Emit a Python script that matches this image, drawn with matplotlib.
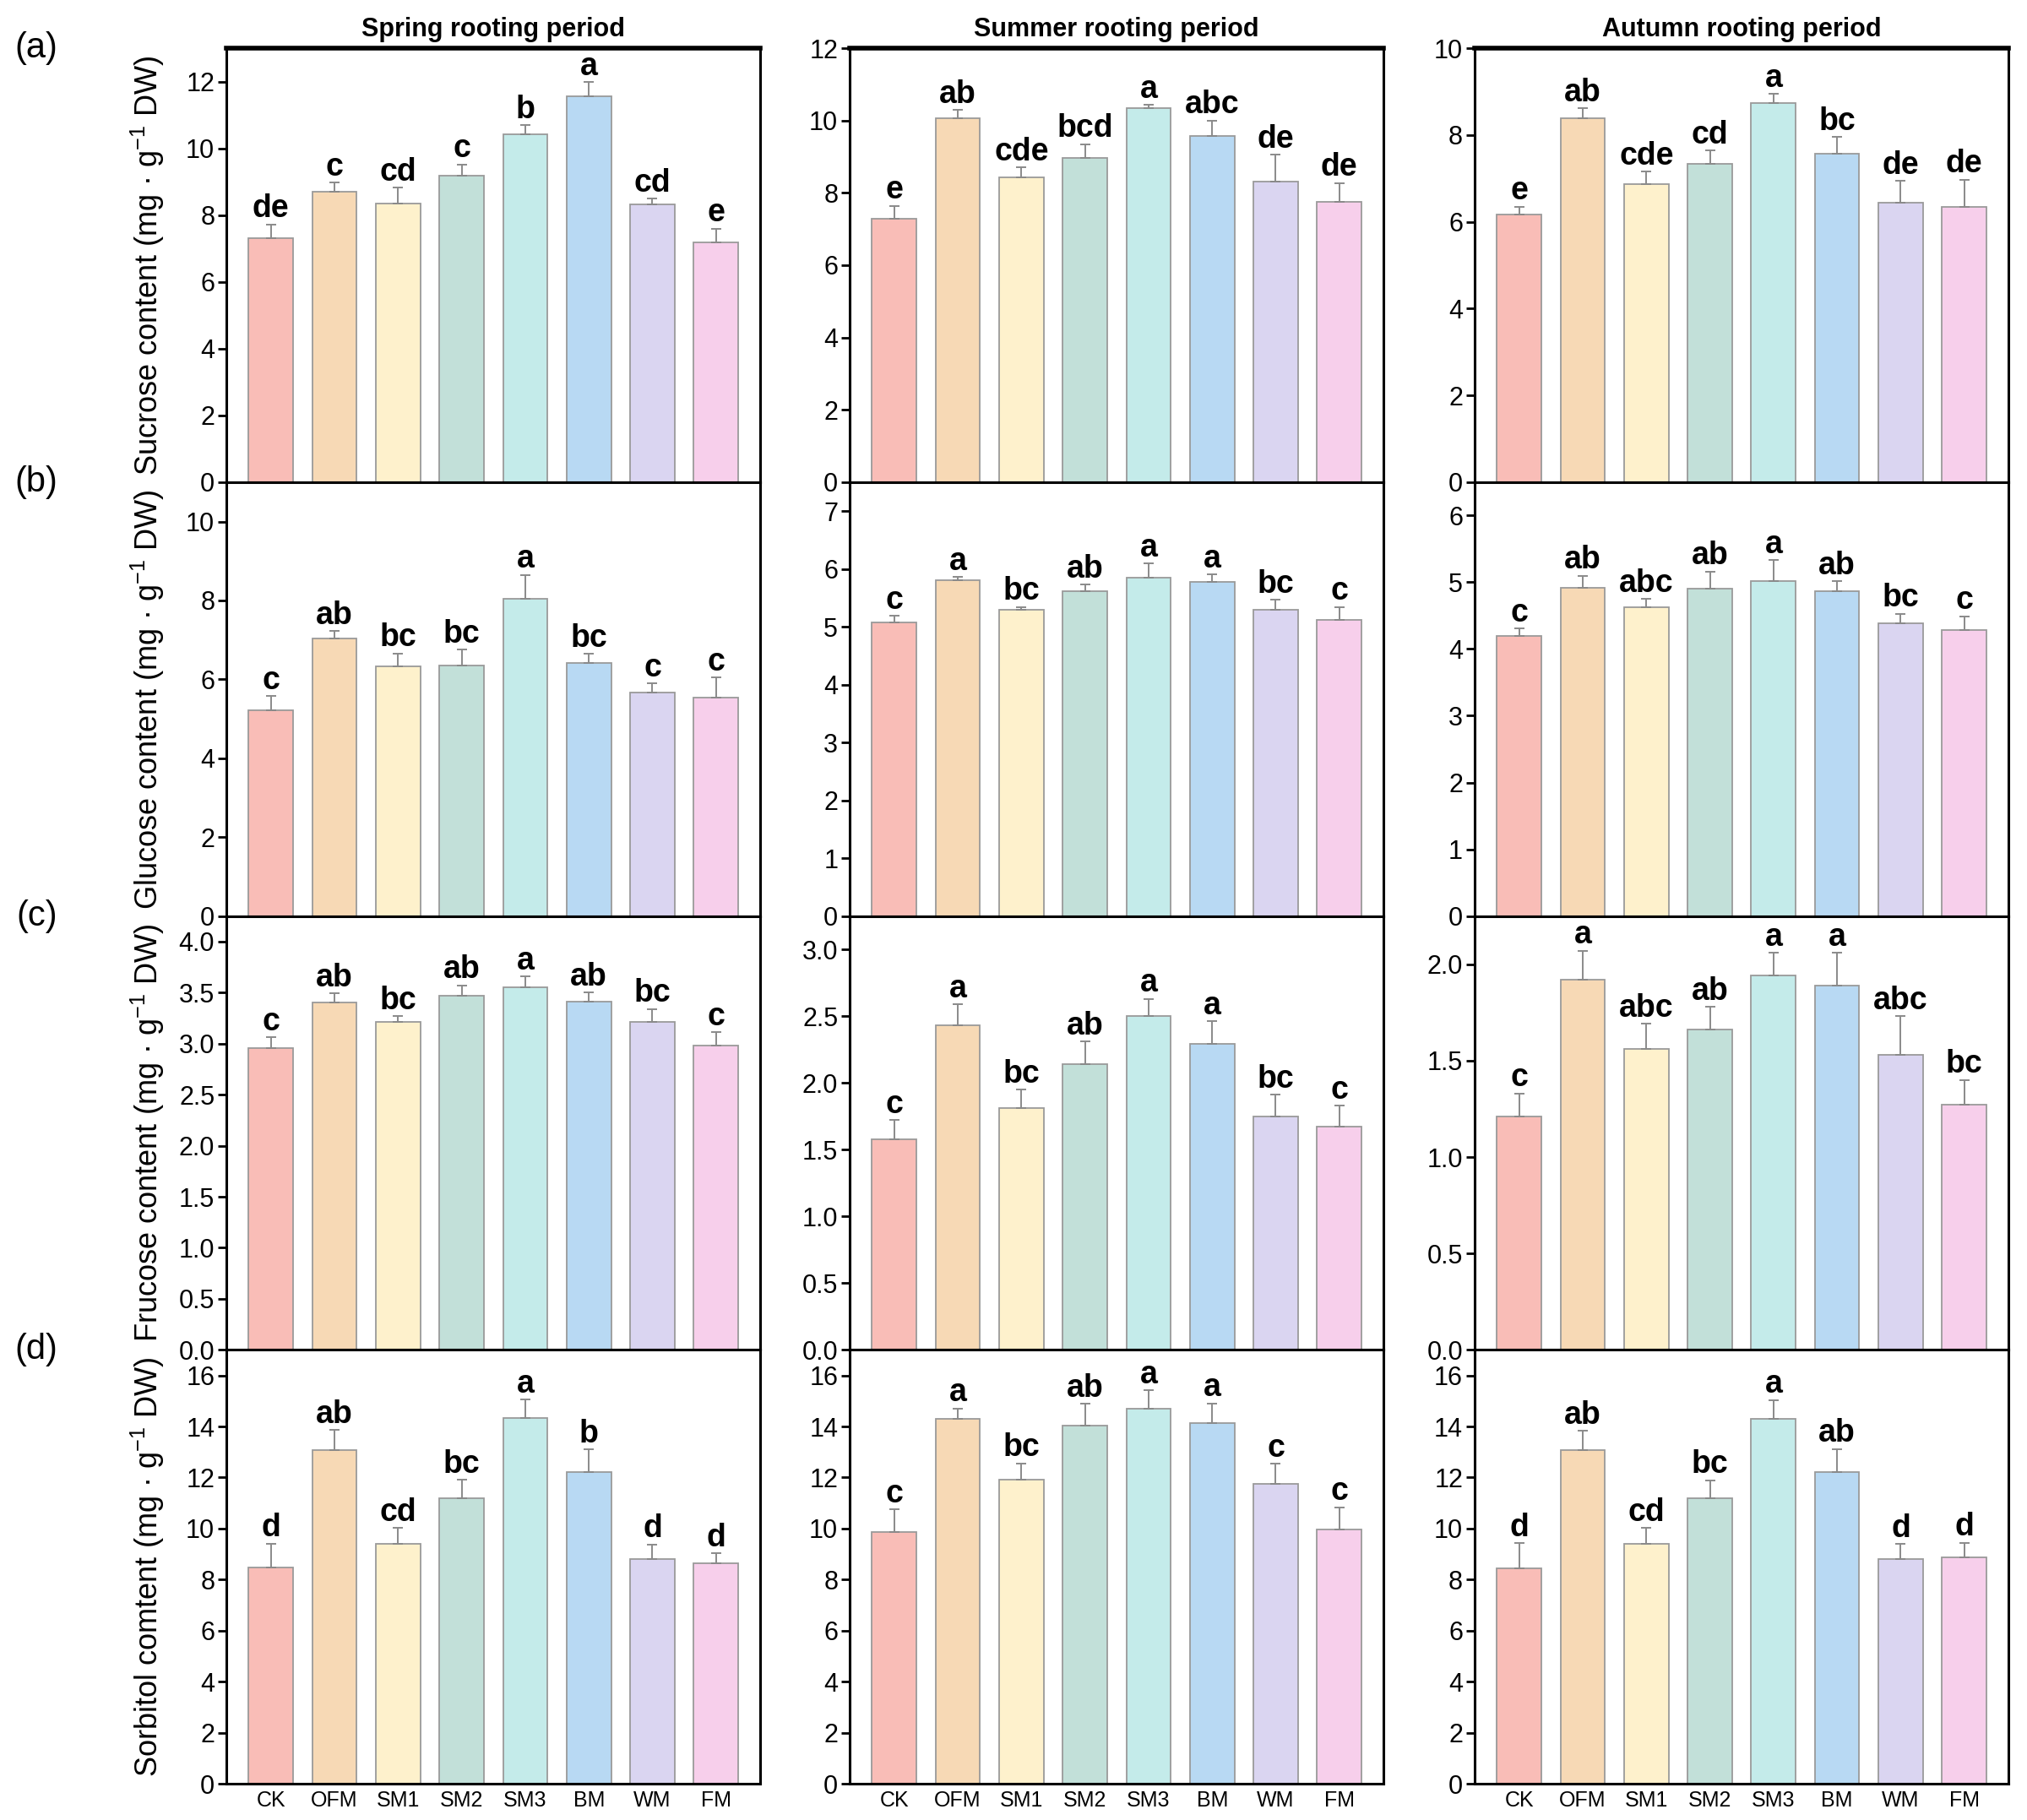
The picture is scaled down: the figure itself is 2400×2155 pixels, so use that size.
import numpy as np
import matplotlib
matplotlib.use("Agg")
import matplotlib.pyplot as plt
from matplotlib.ticker import FormatStrFormatter

plt.rcParams['font.family'] = ['Liberation Sans', 'DejaVu Sans']
plt.rcParams['mathtext.fontset'] = 'custom'
plt.rcParams['mathtext.rm'] = 'Liberation Sans'
NARROW = ['Liberation Sans Narrow', 'Liberation Sans', 'DejaVu Sans']

groups = ['CK', 'OFM', 'SM1', 'SM2', 'SM3', 'BM', 'WM', 'FM']
colors = ['#F9BDB7', '#F7D9B5', '#FEF1CC', '#C2E0D9', '#C4EBEA', '#B8D9F3', '#DAD5F1', '#F7CFEB']
periods = ['Spring rooting period', 'Summer rooting period', 'Autumn rooting period']

# Sucrose
suc_spring = [7.31, 8.71, 8.34, 9.17, 10.43, 11.55, 8.31, 7.18]
suc_spring_err = [0.41, 0.26, 0.49, 0.35, 0.26, 0.44, 0.19, 0.42]
suc_spring_sig = ['de', 'c', 'cd', 'c', 'b', 'a', 'cd', 'e']
suc_summer = [7.28, 10.06, 8.44, 8.96, 10.34, 9.57, 8.32, 7.76]
suc_summer_err = [0.36, 0.23, 0.27, 0.39, 0.09, 0.43, 0.73, 0.51]
suc_summer_sig = ['e', 'ab', 'cde', 'bcd', 'a', 'abc', 'de', 'de']
suc_autumn = [6.17, 8.39, 6.86, 7.34, 8.73, 7.57, 6.44, 6.35]
suc_autumn_err = [0.18, 0.23, 0.30, 0.30, 0.22, 0.38, 0.50, 0.62]
suc_autumn_sig = ['e', 'ab', 'cde', 'cd', 'a', 'bc', 'de', 'de']

# Glucose
glu_spring = [5.22, 7.03, 6.32, 6.36, 8.04, 6.42, 5.66, 5.54]
glu_spring_err = [0.35, 0.20, 0.34, 0.40, 0.61, 0.22, 0.24, 0.51]
glu_spring_sig = ['c', 'ab', 'bc', 'bc', 'a', 'bc', 'c', 'c']
glu_summer = [5.08, 5.81, 5.30, 5.61, 5.85, 5.77, 5.30, 5.12]
glu_summer_err = [0.11, 0.05, 0.04, 0.12, 0.24, 0.13, 0.17, 0.22]
glu_summer_sig = ['c', 'a', 'bc', 'ab', 'a', 'a', 'bc', 'c']
glu_autumn = [4.19, 4.92, 4.63, 4.90, 5.02, 4.86, 4.38, 4.28]
glu_autumn_err = [0.12, 0.18, 0.12, 0.26, 0.31, 0.16, 0.15, 0.21]
glu_autumn_sig = ['c', 'ab', 'abc', 'ab', 'a', 'ab', 'bc', 'c']

# Fructose
fru_spring = [2.96, 3.40, 3.21, 3.47, 3.55, 3.41, 3.21, 2.98]
fru_spring_err = [0.10, 0.09, 0.06, 0.10, 0.11, 0.09, 0.13, 0.13]
fru_spring_sig = ['c', 'ab', 'bc', 'ab', 'a', 'ab', 'bc', 'c']
fru_summer = [1.58, 2.43, 1.81, 2.14, 2.50, 2.29, 1.75, 1.67]
fru_summer_err = [0.14, 0.16, 0.14, 0.17, 0.13, 0.17, 0.16, 0.16]
fru_summer_sig = ['c', 'a', 'bc', 'ab', 'a', 'a', 'bc', 'c']
fru_autumn = [1.21, 1.92, 1.56, 1.66, 1.94, 1.89, 1.53, 1.27]
fru_autumn_err = [0.12, 0.15, 0.13, 0.12, 0.12, 0.17, 0.20, 0.13]
fru_autumn_sig = ['c', 'a', 'abc', 'ab', 'a', 'a', 'abc', 'bc']

# Sorbitol
sor_spring = [8.46, 13.06, 9.41, 11.18, 14.32, 12.21, 8.81, 8.63]
sor_spring_err = [0.95, 0.80, 0.62, 0.73, 0.73, 0.90, 0.57, 0.41]
sor_spring_sig = ['d', 'ab', 'cd', 'bc', 'a', 'b', 'd', 'd']
sor_summer = [9.87, 14.31, 11.91, 14.02, 14.71, 14.13, 11.76, 9.98]
sor_summer_err = [0.89, 0.40, 0.65, 0.87, 0.71, 0.78, 0.77, 0.86]
sor_summer_sig = ['c', 'a', 'bc', 'ab', 'a', 'a', 'c', 'c']
sor_autumn = [8.43, 13.07, 9.39, 11.18, 14.30, 12.20, 8.82, 8.86]
sor_autumn_err = [0.99, 0.77, 0.64, 0.71, 0.74, 0.92, 0.57, 0.58]
sor_autumn_sig = ['d', 'ab', 'cd', 'bc', 'a', 'ab', 'd', 'd']

ylabels = ['Sucrose content (mg · g$^{-1}$ DW)',
           'Glucose content (mg · g$^{-1}$ DW)',
           'Frucose content (mg · g$^{-1}$ DW)',
           'Sorbitol comtent (mg · g$^{-1}$ DW)']
panel_tags = ['(a)', '(b)', '(c)', '(d)']

rows = [
    [(suc_spring, suc_spring_err, suc_spring_sig, 13, 2),
     (suc_summer, suc_summer_err, suc_summer_sig, 12, 2),
     (suc_autumn, suc_autumn_err, suc_autumn_sig, 10, 2)],
    [(glu_spring, glu_spring_err, glu_spring_sig, 11, 2),
     (glu_summer, glu_summer_err, glu_summer_sig, 7.5, 1),
     (glu_autumn, glu_autumn_err, glu_autumn_sig, 6.5, 1)],
    [(fru_spring, fru_spring_err, fru_spring_sig, 4.25, 0.5),
     (fru_summer, fru_summer_err, fru_summer_sig, 3.25, 0.5),
     (fru_autumn, fru_autumn_err, fru_autumn_sig, 2.25, 0.5)],
    [(sor_spring, sor_spring_err, sor_spring_sig, 17, 2),
     (sor_summer, sor_summer_err, sor_summer_sig, 17, 2),
     (sor_autumn, sor_autumn_err, sor_autumn_sig, 17, 2)],
]

fig = plt.figure(figsize=(24, 21.55), dpi=100)

col_left = [0.1117, 0.4192, 0.7275]
col_w = 0.2635
row_top = 0.9735
row_h = 0.2384

x = np.arange(len(groups))

for r, row in enumerate(rows):
    bottom = row_top - (r + 1) * row_h
    for c, (vals, errs, sigs, ymax, step) in enumerate(row):
        ax = fig.add_axes([col_left[c], bottom, col_w, row_h])
        ax.bar(x, vals, width=0.7, color=colors, edgecolor='#9a9a9a', linewidth=1.3, zorder=2)
        ax.errorbar(x, vals, yerr=[np.zeros(len(vals)), errs], fmt='none',
                    ecolor='#8a8a8a', elinewidth=1.4, capsize=4, capthick=1.4, zorder=3)
        for xi, v, e, s in zip(x, vals, errs, sigs):
            ax.annotate(s, (xi, v + e), xytext=(0, 6), textcoords='offset points',
                        ha='center', va='baseline', fontsize=27, fontweight='bold',
                        family=NARROW)
        ax.set_xlim(-0.7, 7.7)
        ax.set_ylim(0, ymax)
        ax.set_yticks(np.arange(0, ymax + 1e-6, step))
        if step < 1:
            ax.yaxis.set_major_formatter(FormatStrFormatter('%.1f'))
        ax.tick_params(axis='y', direction='out', length=7, width=2, pad=3, labelsize=22)
        for lab in ax.get_yticklabels():
            lab.set_family(NARROW)
        ax.tick_params(axis='x', length=0, pad=6, labelsize=18)
        ax.set_xticks(x)
        if r == 3:
            ax.set_xticklabels(groups)
        else:
            ax.set_xticklabels([])
        for sp in ax.spines.values():
            sp.set_linewidth(2.2)
        if r == 0:
            ax.spines['top'].set_linewidth(4)
            ax.set_title(periods[c], fontsize=22, fontweight='bold', family=NARROW, pad=10)
        if c == 0:
            ax.set_ylabel(ylabels[r], fontsize=26)
            ax.yaxis.set_label_coords(-0.112, 0.5)
    fig.text(0.018, row_top - r * row_h, panel_tags[r], fontsize=30, ha='center', va='center')

fig.savefig('out.png', dpi=100)
